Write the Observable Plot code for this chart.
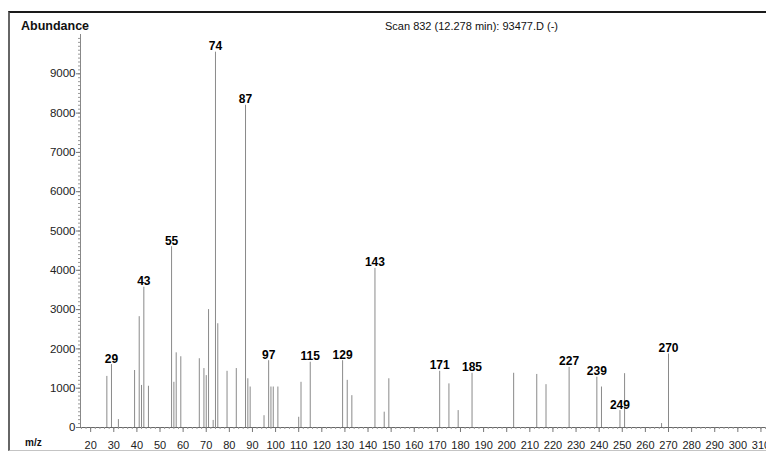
<!DOCTYPE html>
<html>
<head>
<meta charset="utf-8">
<script src="https://cdn.jsdelivr.net/npm/d3@7"></script>
<script src="https://cdn.jsdelivr.net/npm/@observablehq/plot@0.6"></script>
<style>
  body { margin: 0; background: #fff; }
  #wrap { position: relative; width: 766px; height: 457px; overflow: hidden; font-family: "Liberation Sans", Arial, sans-serif; color: #111; }
  #box { position: absolute; left: 8px; top: 11px; width: 780px; height: 437px; border-top: 2px solid #1a1a1a; border-left: 2px solid #666; border-bottom: 1px solid #c4c4c4; }
  #chart { position: absolute; left: 0; top: 0; }
  .lbl { position: absolute; white-space: nowrap; line-height: 1; }
</style>
</head>
<body>
<div id="wrap">
  <div id="box"></div>
  <div id="chart"></div>
  <div class="lbl" style="left:21px;top:20px;font-weight:bold;font-size:12.5px;">Abundance</div>
  <div class="lbl" style="left:385px;top:21px;font-size:11px;">Scan 832 (12.278 min): 93477.D (-)</div>
  <div class="lbl" style="left:25px;top:438px;font-weight:bold;font-size:10px;">m/z</div>
</div>
<script>
// Mass spectrum peaks: m/z and abundance
const mz = [27, 29, 32, 39, 41, 42, 43, 45, 55, 56, 57, 59, 67, 69, 70, 71, 73, 74, 75, 79, 83,
            87, 88, 89, 95, 97, 98, 99, 101, 110, 111, 115, 129, 131, 133, 143, 147, 149,
            171, 175, 179, 185, 203, 213, 217, 227, 239, 241, 249, 251, 267, 270];
const abundance = [1300, 1600, 200, 1450, 2820, 1070, 3570, 1050, 4600, 1150, 1900, 1800, 1750, 1500, 1320, 3000, 180, 9550, 2640, 1430, 1500,
                   8200, 1240, 1030, 300, 1700, 1030, 1030, 1030, 260, 1150, 1660, 1700, 1200, 810, 4050, 390, 1240,
                   1430, 1110, 430, 1380, 1380, 1350, 1090, 1530, 1280, 1030, 430, 1370, 100, 1870];

// Peaks that carry an m/z label
const labelledMz = [29, 43, 55, 74, 87, 97, 115, 129, 143, 171, 185, 227, 239, 249, 270];

// Axis ticks
const yTicks = d3.range(0, 10000, 1000);
const yMinorTicks = d3.range(0, 10000, 100);
const xTicks = d3.range(20, 320, 10);
const xMinorTicks = d3.range(16, 313, 2);
const xDomain = [15.6, 312.4];
const yDomain = [0, 10000];

const peaks = mz.map((m, i) => ({mz: m, abundance: abundance[i]}));
const labelled = peaks.filter(d => labelledMz.includes(d.mz));

const chart = Plot.plot({
  width: 766,
  height: 457,
  marginLeft: 80,
  marginRight: 0,
  marginTop: 34,
  marginBottom: 30,
  x: {domain: xDomain},
  y: {domain: yDomain},
  style: {background: "transparent", fontFamily: "Liberation Sans, Arial, sans-serif", color: "#222"},
  marks: [
    Plot.ruleX(peaks, {x: "mz", y1: 0, y2: "abundance", stroke: "#8a8a8a", strokeWidth: 1}),
    Plot.ruleY([0], {stroke: "#666"}),
    Plot.ruleX([xDomain[0]], {stroke: "#888"}),
    Plot.axisY({ticks: yMinorTicks, tickSize: 2, text: null, label: null, stroke: "#999"}),
    Plot.axisY({ticks: yTicks, tickSize: 4, tickPadding: 1, fontSize: 11.5, label: null, stroke: "#777", tickFormat: d => String(d)}),
    Plot.axisX({ticks: xMinorTicks, tickSize: 2, text: null, label: null, stroke: "#999"}),
    Plot.axisX({ticks: xTicks, tickSize: 5, tickPadding: 9, fontSize: 11, label: null, stroke: "#777", tickFormat: d => String(d)}),
    Plot.text(labelled, {
      x: "mz", y: "abundance", text: d => String(d.mz),
      lineAnchor: "bottom", dy: -2, fontWeight: "bold", fontSize: 12, fill: "#000",
      letterSpacing: 1
    })
  ]
});
document.getElementById("chart").append(chart);
</script>
</body>
</html>
